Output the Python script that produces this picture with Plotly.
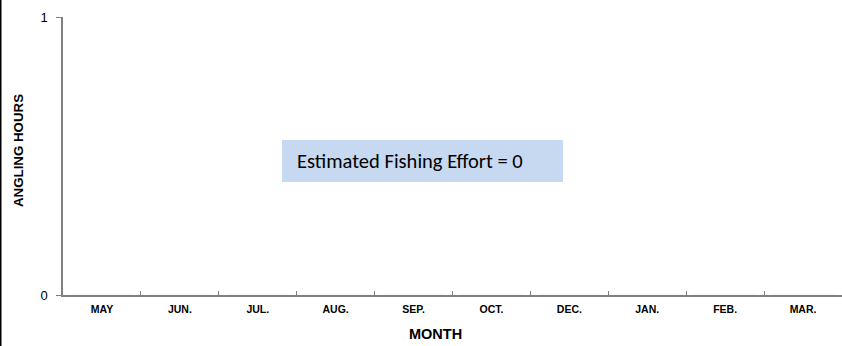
import plotly.graph_objects as go

# months surveyed and the estimated angling hours for each
months = ["MAY", "JUN.", "JUL.", "AUG.", "SEP.", "OCT.", "DEC.", "JAN.", "FEB.", "MAR."]
angling_hours = [0, 0, 0, 0, 0, 0, 0, 0, 0, 0]
y_ticks = [0, 1]
effort_note = "Estimated Fishing Effort = 0"

W, H = 842, 346
L, R, T, B = 63, 0, 17, 51
pw = W - L - R
ph = H - T - B

def px_x(p):
    return (p - L) / pw

def px_y(p):
    return (H - B - p) / ph

fig = go.Figure()
fig.add_trace(go.Bar(
    x=months,
    y=angling_hours,
    marker=dict(color="#4f81bd"),
    showlegend=False,
))

# note box
fig.add_shape(
    type="rect", xref="paper", yref="paper",
    x0=px_x(282), x1=px_x(563), y0=px_y(182), y1=px_y(140),
    fillcolor="#c6d9f1", line=dict(width=0), layer="above",
)
fig.add_annotation(
    text=effort_note, xref="paper", yref="paper",
    x=px_x(295), y=px_y(161), xanchor="left", yanchor="middle",
    showarrow=False, font=dict(family="Carlito, Lato, sans-serif", size=20.5, color="#000000"),
)

# axis titles
fig.add_annotation(
    text="<b>MONTH</b>", xref="paper", yref="paper",
    x=px_x(435), y=px_y(334), xanchor="center", yanchor="middle",
    showarrow=False, font=dict(size=14.5),
)
fig.add_annotation(
    text="<b>ANGLING HOURS</b>", xref="paper", yref="paper",
    x=px_x(18), y=px_y(151), xanchor="center", yanchor="middle",
    textangle=-90, showarrow=False, font=dict(size=13.3),
)

# black border on left edge of the image
fig.add_shape(
    type="line", xref="paper", yref="paper",
    x0=px_x(0.5), x1=px_x(0.5), y0=px_y(H), y1=px_y(0),
    line=dict(color="#000000", width=2),
)

fig.update_layout(
    width=W, height=H,
    margin=dict(l=L, r=R, t=T, b=B, autoexpand=False),
    plot_bgcolor="white", paper_bgcolor="white",
    font=dict(family="Arial, Liberation Sans, sans-serif", color="#000000"),
    xaxis=dict(
        type="category", automargin=False,
        showline=True, linecolor="#808080", linewidth=1.5,
        ticks="inside", ticklen=4, tickcolor="#808080", tickson="boundaries",
        tickfont=dict(size=10.5, weight="bold"),
        ticklabelstandoff=4,
        showgrid=False, zeroline=False,
    ),
    yaxis=dict(
        range=[0, 1], tickvals=y_ticks, automargin=False,
        showline=True, linecolor="#808080", linewidth=1.5,
        ticks="outside", ticklen=5, tickcolor="#808080",
        tickfont=dict(size=13),
        ticklabelstandoff=6,
        showgrid=False, zeroline=False,
    ),
)

# drop the default body margin so the figure fills the window
fig.write_html(
    "out.html",
    config={"displayModeBar": False},
    post_script="document.body.style.margin='0';",
)
